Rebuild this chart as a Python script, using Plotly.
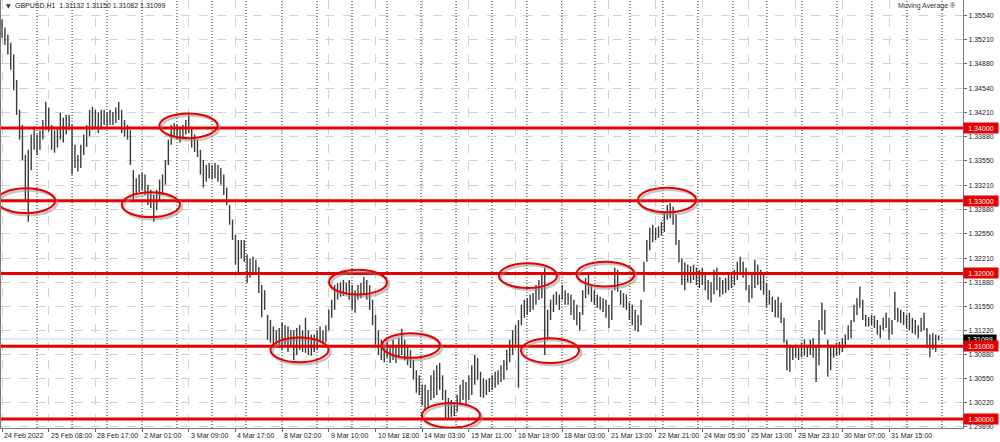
import plotly.graph_objects as go

# ---------------- data ----------------
symbol = "GBPUSD,H1"
last_ohlc = [1.31132, 1.31150, 1.31082, 1.31099]
bar_step = 2  # each sample below spans two H1 bars

high = [
1.3549,1.3538,1.3528,1.3517,1.3501,1.3466,1.3425,1.3404,1.3363,1.3370,
1.3391,1.3402,1.3391,1.3397,1.3411,1.3436,1.3428,1.3404,1.3397,1.3400,
1.3421,1.3414,1.3418,1.3418,1.3404,1.3377,1.3363,1.3377,1.3391,1.3404,
1.3425,1.3429,1.3425,1.3421,1.3425,1.3425,1.3422,1.3425,1.3422,1.3428,
1.3436,1.3425,1.3411,1.3404,1.3397,1.3342,1.3331,1.3336,1.3338,1.3336,
1.3322,1.3315,1.3308,1.3315,1.3329,1.3336,1.3356,1.3384,1.3404,1.3407,
1.3404,1.3400,1.3404,1.3411,1.3418,1.3400,1.3391,1.3384,1.3370,1.3356,
1.3349,1.3352,1.3349,1.3352,1.3349,1.3345,1.3336,1.3318,1.3294,1.3274,
1.3253,1.3246,1.3246,1.3246,1.3226,1.3221,1.3223,1.3219,1.3209,1.3184,
1.3177,1.3143,1.3136,1.3127,1.3122,1.3125,1.3132,1.3129,1.3127,1.3122,
1.3122,1.3125,1.3129,1.3122,1.3139,1.3122,1.3116,1.3116,1.3122,1.3127,
1.3122,1.3129,1.3150,1.3164,1.3184,1.3187,1.3188,1.3191,1.3187,1.3191,
1.3184,1.3177,1.3184,1.3187,1.3195,1.3191,1.3184,1.3164,1.3143,1.3122,
1.3109,1.3102,1.3106,1.3102,1.3109,1.3102,1.3111,1.3124,1.3109,1.3102,
1.3095,1.3081,1.3067,1.3060,1.3047,1.3047,1.3040,1.3060,1.3067,1.3074,
1.3077,1.3060,1.3040,1.3029,1.3026,1.3023,1.3033,1.3047,1.3054,1.3051,
1.3060,1.3074,1.3088,1.3084,1.3065,1.3056,1.3054,1.3056,1.3060,1.3065,
1.3067,1.3074,1.3081,1.3095,1.3109,1.3122,1.3129,1.3136,1.3157,1.3164,
1.3166,1.3171,1.3173,1.3184,1.3191,1.3198,1.3208,1.3150,1.3164,1.3171,
1.3175,1.3171,1.3184,1.3177,1.3173,1.3171,1.3164,1.3157,1.3147,1.3177,
1.3194,1.3198,1.3184,1.3177,1.3171,1.3168,1.3166,1.3164,1.3157,1.3177,
1.3208,1.3205,1.3177,1.3173,1.3171,1.3160,1.3157,1.3150,1.3143,1.3164,
1.3216,1.3246,1.3263,1.3267,1.3263,1.3265,1.3271,1.3283,1.3294,1.3297,
1.3292,1.3281,1.3246,1.3221,1.3215,1.3212,1.3210,1.3212,1.3208,1.3205,
1.3208,1.3202,1.3191,1.3188,1.3205,1.3208,1.3195,1.3191,1.3194,1.3198,
1.3202,1.3205,1.3216,1.3223,1.3216,1.3208,1.3184,1.3198,1.3219,1.3212,
1.3205,1.3198,1.3187,1.3177,1.3168,1.3164,1.3168,1.3160,1.3139,1.3109,
1.3102,1.3099,1.3102,1.3098,1.3105,1.3109,1.3102,1.3109,1.3111,1.3102,
1.3136,1.3160,1.3150,1.3109,1.3102,1.3102,1.3105,1.3106,1.3111,1.3116,
1.3129,1.3136,1.3157,1.3166,1.3182,1.3164,1.3143,1.3140,1.3143,1.3142,
1.3136,1.3129,1.3139,1.3146,1.3139,1.3136,1.3175,1.3153,1.3150,1.3147,
1.3143,1.3146,1.3139,1.3136,1.3129,1.3139,1.3146,1.3125,1.3116,1.3118,1.3116,1.3115]

low = [
1.3524,1.3514,1.3501,1.3480,1.3452,1.3418,1.3384,1.3356,1.3301,1.3271,
1.3342,1.3370,1.3363,1.3370,1.3384,1.3397,1.3395,1.3370,1.3366,1.3373,
1.3384,1.3380,1.3391,1.3397,1.3336,1.3345,1.3340,1.3345,1.3363,1.3374,
1.3388,1.3397,1.3400,1.3393,1.3400,1.3404,1.3402,1.3404,1.3404,1.3407,
1.3411,1.3393,1.3388,1.3384,1.3349,1.3301,1.3308,1.3312,1.3315,1.3308,
1.3294,1.3290,1.3271,1.3287,1.3301,1.3308,1.3322,1.3349,1.3377,1.3388,
1.3384,1.3380,1.3386,1.3391,1.3393,1.3373,1.3367,1.3360,1.3336,1.3318,
1.3326,1.3331,1.3329,1.3331,1.3326,1.3322,1.3308,1.3294,1.3267,1.3246,
1.3212,1.3202,1.3221,1.3216,1.3187,1.3194,1.3201,1.3198,1.3173,1.3140,
1.3150,1.3109,1.3105,1.3099,1.3102,1.3098,1.3095,1.3102,1.3092,1.3098,
1.3081,1.3088,1.3095,1.3092,1.3091,1.3088,1.3087,1.3092,1.3095,1.3105,
1.3102,1.3105,1.3122,1.3139,1.3150,1.3164,1.3168,1.3169,1.3171,1.3164,
1.3150,1.3146,1.3164,1.3166,1.3171,1.3164,1.3150,1.3129,1.3102,1.3088,
1.3081,1.3078,1.3084,1.3077,1.3081,1.3077,1.3084,1.3088,1.3081,1.3074,
1.3070,1.3054,1.3036,1.3033,1.3019,1.3012,1.3015,1.3026,1.3029,1.3033,
1.3040,1.3026,1.3001,1.3001,1.3003,1.3004,1.3010,1.3019,1.3026,1.3019,
1.3026,1.3033,1.3047,1.3054,1.3030,1.3029,1.3033,1.3037,1.3040,1.3043,
1.3047,1.3051,1.3054,1.3067,1.3078,1.3088,1.3102,1.3043,1.3129,1.3139,
1.3143,1.3147,1.3150,1.3157,1.3164,1.3166,1.3088,1.3109,1.3136,1.3147,
1.3157,1.3150,1.3164,1.3157,1.3157,1.3143,1.3136,1.3129,1.3122,1.3143,
1.3166,1.3171,1.3161,1.3157,1.3153,1.3150,1.3147,1.3139,1.3125,1.3136,
1.3177,1.3175,1.3157,1.3153,1.3150,1.3136,1.3129,1.3122,1.3120,1.3129,
1.3175,1.3216,1.3232,1.3243,1.3246,1.3249,1.3252,1.3257,1.3274,1.3276,
1.3267,1.3239,1.3215,1.3184,1.3177,1.3188,1.3187,1.3191,1.3184,1.3180,
1.3184,1.3177,1.3164,1.3160,1.3171,1.3177,1.3168,1.3171,1.3173,1.3177,
1.3180,1.3184,1.3191,1.3198,1.3194,1.3177,1.3160,1.3166,1.3180,1.3184,
1.3177,1.3171,1.3154,1.3157,1.3147,1.3140,1.3139,1.3132,1.3105,1.3067,
1.3065,1.3081,1.3084,1.3081,1.3085,1.3087,1.3085,1.3088,1.3084,1.3051,
1.3074,1.3122,1.3116,1.3058,1.3067,1.3084,1.3087,1.3088,1.3092,1.3098,
1.3109,1.3111,1.3133,1.3143,1.3153,1.3136,1.3127,1.3127,1.3129,1.3125,
1.3116,1.3111,1.3122,1.3125,1.3109,1.3116,1.3136,1.3133,1.3132,1.3129,
1.3125,1.3122,1.3118,1.3116,1.3111,1.3120,1.3122,1.3098,1.3085,1.3095,1.3092,1.3108]

levels = [1.34, 1.33, 1.32, 1.31, 1.30]

price_ticks = [1.35540, 1.35210, 1.34880, 1.34540, 1.34210, 1.33880, 1.33550,
               1.33210, 1.32880, 1.32550, 1.32210, 1.31880, 1.31550, 1.31220,
               1.30880, 1.30550, 1.30220, 1.29890]

time_label_bars = [0, 32, 64, 96, 128, 160, 192, 224, 256, 288, 320, 352,
                   384, 416, 448, 480, 512, 544, 576, 608]
time_labels = ["24 Feb 2022", "25 Feb 08:00", "28 Feb 17:00", "2 Mar 01:00",
               "3 Mar 09:00", "4 Mar 17:00", "8 Mar 02:00", "9 Mar 10:00",
               "10 Mar 18:00", "14 Mar 03:00", "15 Mar 11:00", "16 Mar 19:00",
               "18 Mar 03:00", "21 Mar 13:00", "22 Mar 21:00", "24 Mar 05:00",
               "25 Mar 13:00", "28 Mar 23:10", "30 Mar 07:00", "31 Mar 15:00"]

day_start_bars = [24.0, 48.0, 72.0, 96.0, 119.9, 143.9, 167.2, 191.9, 215.9,
                  239.9, 263.9, 287.2, 311.2, 335.8, 359.8, 383.8, 406.4,
                  430.4, 453.0, 477.0, 501.0, 524.3, 548.3, 572.3, 596.3,
                  620.3, 644.3]

# analyst's circled touches: bar index of centre and price level
ellipse_bars = [16.5, 102.0, 127.8, 203.9, 244.0, 280.3, 307.7, 360.5, 375.6, 413.6, 455.8]
ellipse_prices = [1.3300, 1.32945, 1.3403, 1.3095, 1.3188, 1.3101, 1.3005, 1.3197, 1.3094, 1.3199, 1.3301]

# ---------------- figure ----------------
X_RANGE = [-0.7, 658.7]
Y_RANGE = [1.29876, 1.35759]
FONT = "Liberation Sans"
RED = "#e60000"

x = [i * bar_step for i in range(len(high))]
xs, ys = [], []
for xi, h, l in zip(x, high, low):
    xs += [xi, xi, None]
    ys += [l, h, None]

fig = go.Figure()
fig.add_trace(go.Scatter(x=xs, y=ys, mode="lines",
                         line=dict(color="#3a3a3a", width=1.4),
                         hoverinfo="skip", showlegend=False))

shapes = []
# day separators
for b in day_start_bars:
    shapes.append(dict(type="line", xref="x", yref="paper", x0=b, x1=b, y0=0, y1=1,
                       line=dict(color="#222222", width=1, dash="1px,2px"), layer="below"))
# bid line
shapes.append(dict(type="line", xref="paper", yref="y", x0=0, x1=1,
                   y0=last_ohlc[3], y1=last_ohlc[3],
                   line=dict(color="#c9d4dc", width=1), layer="below"))
# support / resistance lines
for lv in levels:
    shapes.append(dict(type="line", xref="paper", yref="y", x0=0, x1=1, y0=lv, y1=lv,
                       line=dict(color=RED, width=3)))
# ellipses (shadow + red)
HW, HH = 19.9, 0.00170
for b, p in zip(ellipse_bars, ellipse_prices):
    shapes.append(dict(type="circle", xref="x", yref="y",
                       x0=b - HW + 1.4, x1=b + HW + 1.4, y0=p - HH - 0.00028, y1=p + HH - 0.00028,
                       line=dict(color="rgba(140,140,140,0.5)", width=2.5)))
    shapes.append(dict(type="circle", xref="x", yref="y",
                       x0=b - HW, x1=b + HW, y0=p - HH, y1=p + HH,
                       line=dict(color=RED, width=2)))

annotations = []
for b, t in zip(time_label_bars, time_labels):
    annotations.append(dict(x=b, y=0, xref="x", yref="paper", text=t, showarrow=False,
                            xanchor="left", yanchor="top", yshift=-2, xshift=0,
                            font=dict(family=FONT, size=7, color="#222")))
# current price label (black)
annotations.append(dict(x=1, y=last_ohlc[3], xref="paper", yref="y",
                        text=f"{last_ohlc[3]:.5f}", showarrow=False, xanchor="left",
                        yanchor="middle", bgcolor="#000000", width=32, height=8,
                        borderpad=0, font=dict(family=FONT, size=7, color="white")))
# level labels (red)
for lv in levels:
    annotations.append(dict(x=1, y=lv, xref="paper", yref="y", text=f"{lv:.5f}",
                            showarrow=False, xanchor="left", yanchor="middle",
                            bgcolor=RED, width=32, height=8, borderpad=1,
                            font=dict(family=FONT, size=7, color="white")))
# header texts
annotations.append(dict(x=0.003, y=1 - 6 / 428, xref="paper", yref="paper", text="▼",
                        showarrow=False, xanchor="left", yanchor="middle",
                        font=dict(family="DejaVu Sans", size=6, color="#333")))
annotations.append(dict(x=0.0125, y=1 - 6 / 428, xref="paper", yref="paper",
                        text=f"{symbol}  " + " ".join(f"{v:.5f}" for v in last_ohlc),
                        showarrow=False, xanchor="left", yanchor="middle",
                        font=dict(family=FONT, size=7, color="#222")))
annotations.append(dict(x=0.995, y=1 - 6 / 428, xref="paper", yref="paper",
                        text="Moving Average ®", showarrow=False, xanchor="right",
                        yanchor="middle", font=dict(family=FONT, size=7, color="#333")))

fig.update_layout(
    width=1000, height=442,
    margin=dict(l=1, r=37, t=0, b=14),
    paper_bgcolor="white", plot_bgcolor="white",
    showlegend=False,
    shapes=shapes, annotations=annotations,
    xaxis=dict(range=X_RANGE, tickvals=time_label_bars, showticklabels=False,
               ticks="outside", ticklen=3, tickcolor="#666",
               showgrid=True, gridcolor="#d2d2d2", griddash="dash", gridwidth=1,
               showline=True, linecolor="#7a7a7a", linewidth=1, zeroline=False,
               fixedrange=True),
    yaxis=dict(range=Y_RANGE, side="right", tickvals=price_ticks,
               ticktext=[f"{v:.5f}" for v in price_ticks],
               ticks="outside", ticklen=3, tickcolor="#666",
               tickfont=dict(family=FONT, size=7, color="#222"),
               showgrid=True, gridcolor="#d2d2d2", griddash="dash", gridwidth=1,
               showline=True, linecolor="#7a7a7a", linewidth=1, mirror=True,
               zeroline=False, fixedrange=True),
)

fig.write_html("out.html", config={"displayModeBar": False},
               post_script="document.body.style.margin='0';document.body.style.overflow='hidden';")
